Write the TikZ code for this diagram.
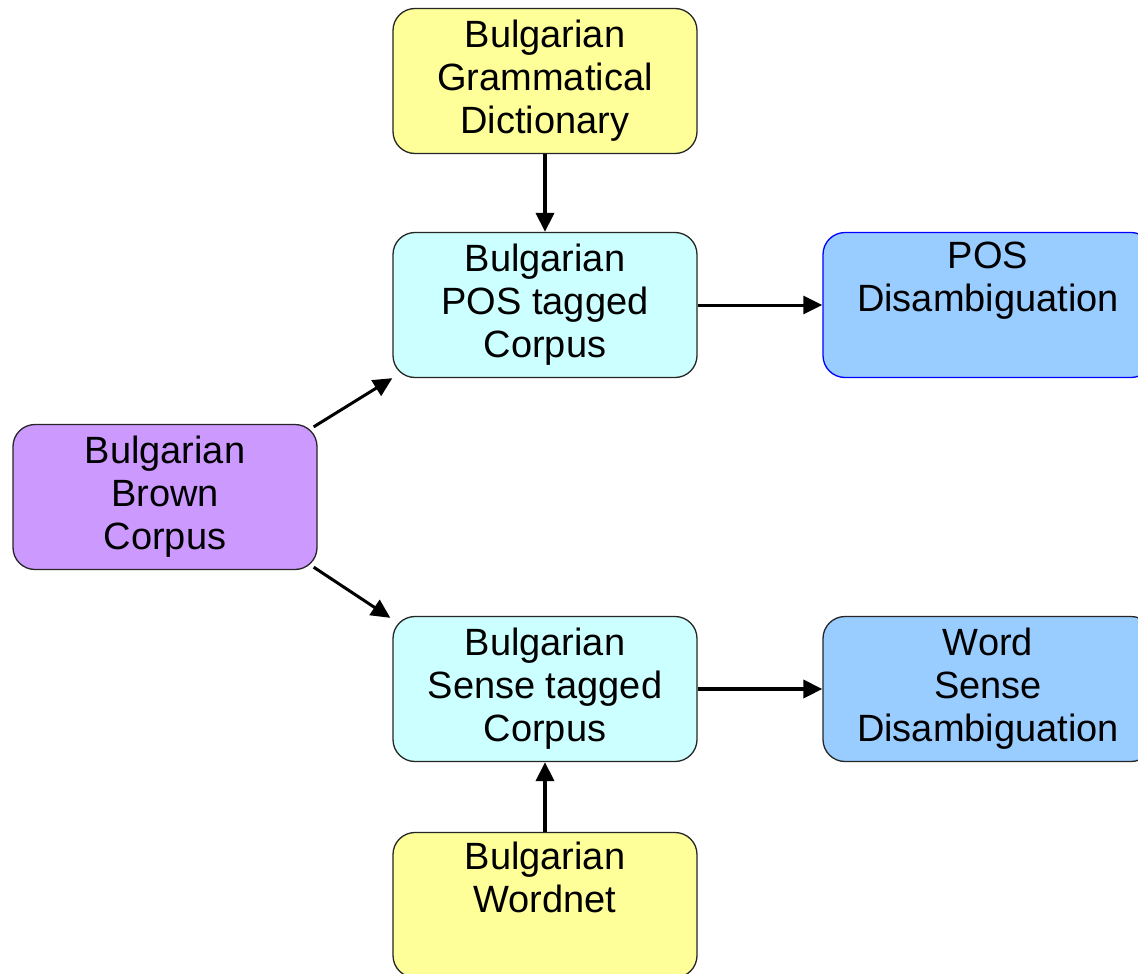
\documentclass[tikz,border=0pt]{standalone}
\usepackage{fontspec}
\setmainfont{Liberation Sans}
\usetikzlibrary{arrows.meta}
\definecolor{dictyellow}{HTML}{FFFF99}
\definecolor{corpcyan}{HTML}{CCFFFF}
\definecolor{disblue}{HTML}{99CCFF}
\definecolor{brownpurple}{HTML}{CC99FF}
\begin{document}
\begin{tikzpicture}[x=1pt,y=-1pt,
  box/.style={draw=black!85, line width=1.3pt, rounded corners=22pt,
    minimum width=304pt, minimum height=145pt, inner sep=0pt, align=center,
    font=\fontsize{38}{43}\selectfont},
  wide/.style={box, minimum width=330pt},
  >={Triangle[length=19pt,width=18pt]}]
\useasboundingbox (0,0) rectangle (1138,974);
\fill[white] (0,0) rectangle (1138,974);
\node[box, fill=dictyellow] (dict) at (545,81) {Bulgarian\\Grammatical\\Dictionary};
\node[box, fill=corpcyan] (postag) at (545,305) {Bulgarian\\POS tagged\\Corpus};
\node[wide, fill=disblue, draw=blue] (posdis) at (988,305) {POS\\Disambiguation\\\strut};
\node[box, fill=brownpurple] (brown) at (165,497) {Bulgarian\\Brown\\Corpus};
\node[box, fill=corpcyan] (sensetag) at (545,689) {Bulgarian\\Sense tagged\\Corpus};
\node[wide, fill=disblue] (wsd) at (988,689) {Word\\Sense\\Disambiguation};
\node[box, fill=dictyellow] (wordnet) at (545,905) {Bulgarian\\Wordnet\\\strut};
\draw[->, line width=3.5pt] (dict) -- (postag);
\draw[->, line width=3pt] (postag) -- (posdis);
\draw[->, line width=3pt] ([shift={(-4pt,-3pt)}]brown.north east) -- (postag.south west);
\draw[->, line width=3pt] ([shift={(-4pt,3pt)}]brown.south east) -- ([shift={(-2pt,-2pt)}]sensetag.north west);
\draw[->, line width=3.5pt] (sensetag) -- (wsd);
\draw[->, line width=3.5pt] (wordnet) -- (sensetag);
\end{tikzpicture}
\end{document}
